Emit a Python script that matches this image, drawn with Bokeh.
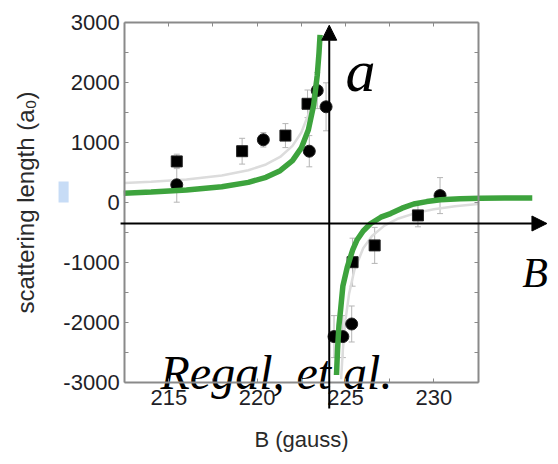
from bokeh.plotting import figure
from bokeh.models import (Range1d, LinearAxis, FixedTicker, Arrow, NormalHead,
                          Whisker, TeeHead, ColumnDataSource)
from bokeh.core.properties import value
from bokeh.embed import file_html
from bokeh.resources import INLINE

# ---------------- data ----------------
sq_B = [215.45, 219.15, 221.6, 222.85, 225.4, 226.65, 229.1]
sq_a = [680, 850, 1110, 1640, -1000, -720, -220]
sq_err = [120, 215, 200, 230, 400, 300, 190]

ci_B = [215.45, 220.35, 222.95, 223.4, 223.9, 224.35, 224.85, 225.35, 230.35]
ci_a = [290, 1040, 850, 1860, 1590, -2240, -2240, -2030, 110]
ci_err = [290, 120, 260, 300, 400, 350, 350, 300, 300]

# thin gray fit curve (original figure)
gray_left_B = [212.5, 214, 216, 218, 219.5, 220.5, 221.3, 222, 222.5, 222.9, 223.2, 223.4, 223.55]
gray_left_a = [318, 339, 380, 446, 532, 629, 754, 938, 1161, 1462, 1845, 2258, 2731]
gray_right_B = [224.75, 224.85, 225.0, 225.2, 225.5, 226.0, 226.5, 227.2, 228, 229, 230, 231.2, 232.5]
gray_right_a = [-2951, -2463, -1963, -1531, -1134, -769, -563, -390, -271, -178, -117, -67, -30]

# thick green overlay curve
green_left_B = [212.45, 214, 216, 218, 219.5, 220.5, 221.3, 222, 222.5, 222.9, 223.2, 223.4, 223.5, 223.56]
green_left_a = [150, 168, 202, 257, 331, 414, 525, 693, 905, 1208, 1622, 2111, 2489, 2789]
green_right_B = [224.49, 224.55, 224.63, 224.72, 224.85, 225.1, 225.4, 225.66, 226.0, 226.41,
                 227.0, 227.55, 228.2, 228.86, 229.6, 230.37, 231.5, 232.64, 234.0, 235.57]
green_right_a = [-2880, -2450, -2050, -1800, -1400, -1083, -800, -625, -480, -360,
                 -250, -190, -100, -30, 10, 40, 58, 67, 70, 70]

x_ticks = [215, 220, 225, 230]
x_minor = [217.5, 222.5, 227.5]
x_tick_labels = ["215", "220", "225", "230"]
y_ticks = [-3000, -2000, -1000, 0, 1000, 2000, 3000]
y_minor = [-2500, -1500, -500, 500, 1500, 2500]
y_tick_labels = ["-3000", "-2000", "-1000", "0", "1000", "2000", "3000"]

B_lo, B_hi = 212.5, 232.5
a_lo, a_hi = -3000, 3000

# overlay "axes" of the sketch
arrow_B0 = 224.08
arrow_a0 = -355
v_arrow = (-3440, 2950)
h_arrow = (212.27, 236.4)

labels_text = ["a", "B", "Regal, et al."]

# ---------------- figure ----------------
W, H = 558, 464
p = figure(width=W, height=H, output_backend="svg", toolbar_location=None,
           x_range=Range1d(205.475, 237.054), y_range=Range1d(-4371.7, 3361.7),
           x_axis_location=None, y_axis_location=None, min_border=0,
           outline_line_color=None, background_fill_color="white")
for g in p.grid:
    g.visible = False

AX = "#8a8a8a"
TXT = "#1f1f28"

def style_axis(ax, show_labels):
    ax.axis_line_color = AX
    ax.axis_line_width = 2
    ax.major_tick_line_color = AX
    ax.minor_tick_line_color = AX
    ax.major_tick_in = 4
    ax.major_tick_out = 0
    ax.minor_tick_in = 4
    ax.minor_tick_out = 0
    ax.major_label_text_font = "Liberation Sans"
    ax.major_label_text_font_size = "22px"
    ax.major_label_text_color = TXT if show_labels else None
    ax.axis_label_text_font = "Liberation Sans"
    ax.axis_label_text_font_style = "normal"
    ax.axis_label_text_font_size = "24px"
    ax.axis_label_text_color = "#2a2a2a"

xb = LinearAxis(fixed_location=a_lo, bounds=(B_lo, B_hi),
                ticker=FixedTicker(ticks=x_ticks, minor_ticks=x_minor),
                axis_label="B (gauss)")
xb.major_label_overrides = {t: l for t, l in zip(x_ticks, x_tick_labels)}
style_axis(xb, True)
xb.axis_label_text_font_size = "22px"
xb.major_label_standoff = 8
xb.axis_label_standoff = 18
p.add_layout(xb, "below")

yl = LinearAxis(fixed_location=B_lo, bounds=(a_lo, a_hi),
                ticker=FixedTicker(ticks=y_ticks, minor_ticks=y_minor),
                axis_label="scattering length (a\u2080)")
yl.major_label_overrides = {t: l for t, l in zip(y_ticks, y_tick_labels)}
style_axis(yl, True)
yl.major_label_standoff = 5
yl.axis_label_standoff = 21
p.add_layout(yl, "left")

xt = LinearAxis(fixed_location=a_hi, bounds=(B_lo, B_hi),
                ticker=FixedTicker(ticks=x_ticks, minor_ticks=x_minor))
style_axis(xt, False)
p.add_layout(xt, "above")

yr = LinearAxis(fixed_location=B_hi, bounds=(a_lo, a_hi),
                ticker=FixedTicker(ticks=y_ticks, minor_ticks=y_minor))
style_axis(yr, False)
p.add_layout(yr, "right")

# small light-blue artifact near the y label
p.quad(left=[208.76], right=[209.33], bottom=[-5], top=[345],
       fill_color="#c7dcf6", line_color=None)

# gray fit curve
p.line(gray_left_B, gray_left_a, line_color="#dcdcdc", line_width=2.5)
p.line(gray_right_B, gray_right_a, line_color="#dcdcdc", line_width=2.5)

# error bars
sq_src = ColumnDataSource(dict(B=sq_B, a=sq_a,
                               lo=[v - e for v, e in zip(sq_a, sq_err)],
                               hi=[v + e for v, e in zip(sq_a, sq_err)]))
ci_src = ColumnDataSource(dict(B=ci_B, a=ci_a,
                               lo=[v - e for v, e in zip(ci_a, ci_err)],
                               hi=[v + e for v, e in zip(ci_a, ci_err)]))
for src in (sq_src, ci_src):
    w = Whisker(source=src, base="B", upper="hi", lower="lo", dimension="height",
                line_color="#b5b5b5", line_width=1, level="underlay",
                upper_head=TeeHead(size=6, line_color="#b5b5b5", line_width=1),
                lower_head=TeeHead(size=6, line_color="#b5b5b5", line_width=1))
    p.add_layout(w)

p.scatter("B", "a", source=sq_src, marker="square", size=11,
          fill_color="black", line_color="#222222", line_width=1)
p.scatter("B", "a", source=ci_src, marker="circle", size=12,
          fill_color="black", line_color="#222222", line_width=1)

# overlay texts
p.text(x=[214.53], y=[-2838], text=[labels_text[2]], text_font=value("Liberation Serif"),
       text_font_style="italic", text_font_size="48px", text_baseline="alphabetic",
       text_align="left", text_color="black")
p.text(x=[225.0], y=[2195], text=[labels_text[0]], text_font=value("Liberation Serif"),
       text_font_style="italic", text_font_size="60px", text_baseline="alphabetic",
       text_align="left", text_color="black")
p.text(x=[235.0], y=[-1188], text=[labels_text[1]], text_font=value("Liberation Serif"),
       text_font_style="italic", text_font_size="42px", text_baseline="alphabetic",
       text_align="left", text_color="black")

# green curve
GREEN = "#3da33d"
p.line(green_left_B, green_left_a, line_color=GREEN, line_width=5.5)
p.line(green_right_B, green_right_a, line_color=GREEN, line_width=5.5)

# arrows
p.add_layout(Arrow(end=NormalHead(size=15, fill_color="black", line_color="black"),
                   x_start=arrow_B0, y_start=v_arrow[0], x_end=arrow_B0, y_end=v_arrow[1],
                   line_color="black", line_width=2))
p.add_layout(Arrow(end=NormalHead(size=15, fill_color="black", line_color="black"),
                   x_start=h_arrow[0], y_start=arrow_a0, x_end=h_arrow[1], y_end=arrow_a0,
                   line_color="black", line_width=2))

open("out.html", "w").write(file_html(p, INLINE))
